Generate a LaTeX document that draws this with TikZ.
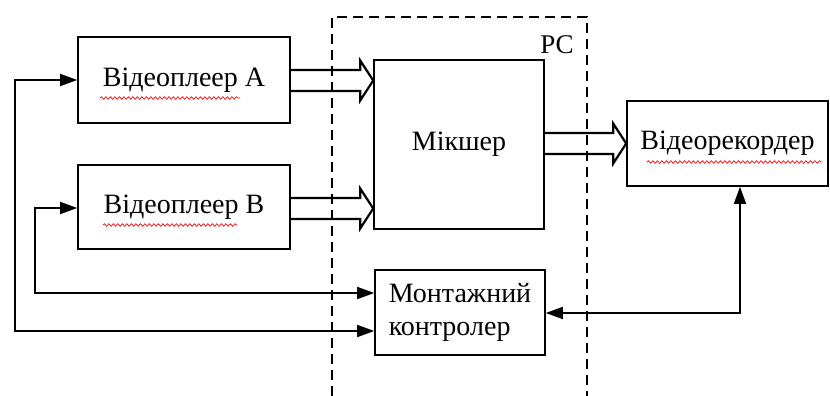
\documentclass[tikz,border=0pt]{standalone}
\usepackage{fontspec}
\setmainfont{Liberation Serif}
\usetikzlibrary{arrows.meta,calc,decorations.pathmorphing}
\begin{document}
\begin{tikzpicture}[x=1pt,y=-1pt,
  box/.style={draw, line width=1.6pt, inner sep=0pt, font=\fontsize{28}{33}\selectfont},
  link/.style={line width=1.5pt, {Triangle[length=17pt,width=12pt]}-{Triangle[length=17pt,width=12pt]}},
  fat/.style={line width=2.2pt, line join=miter},
  pcframe/.style={line width=1.5pt, dash pattern=on 10pt off 6pt},
  squig/.style={red, line width=0.7pt, decorate, decoration={snake, amplitude=1.3pt, segment length=4.5pt}}]
\useasboundingbox (0,0) rectangle (830,396);
% PC frame
\draw[pcframe] (332,396) -- (332,17) -- (587,17) -- (587,396);
\node[font=\fontsize{27}{33}\selectfont] (pc) at (557,45) {PC};
% boxes
\node[box, minimum width=212pt, minimum height=86pt] (A) at (184,80) {Відеоплеер А};
\node[box, minimum width=212pt, minimum height=84pt] (B) at (184,207) {Відеоплеер В};
\node[box, minimum width=170pt, minimum height=169pt] (M) at (459,144.5) {Мікшер};
\node[box, minimum width=201pt, minimum height=85pt] (R) at (727.5,143.5) {Відеорекордер};
\node[box, minimum width=170pt, minimum height=85pt, align=left] (C) at (460,312.5) {Монтажний\\контролер};
% spell-check squiggles
\draw[squig] (100,98) -- (240,98);
\draw[squig] (103,225) -- (237,225);
\draw[squig] (647,162) -- (822,162);
% fat double arrows
\newcommand\fatarrow[3]{%
  \coordinate (s) at (#1.east |- 0,#3);
  \coordinate (t) at (#2.west |- 0,#3);
  \draw[fat] ($(s)+(0,-10.5)$) -- ($(t)+(-13,-10.5)$) -- ($(t)+(-13,-20)$) -- (t)
     -- ($(t)+(-13,20)$) -- ($(t)+(-13,10.5)$) -- ($(s)+(0,10.5)$);}
\fatarrow{A}{M}{80.5}
\fatarrow{B}{M}{208.5}
\fatarrow{M}{R}{143.5}
% control links
\coordinate (ca) at (15,331);
\coordinate (cb) at (35,293);
\coordinate (cr) at (740,313);
\draw[link] (A.west |- 0,80) -| (ca) -- (C.west |- ca);
\draw[link] (B.west |- 0,208) -| (cb) -- (C.west |- cb);
\draw[link] (C.east |- cr) -- (cr) -- (cr |- R.south);
\end{tikzpicture}
\end{document}
